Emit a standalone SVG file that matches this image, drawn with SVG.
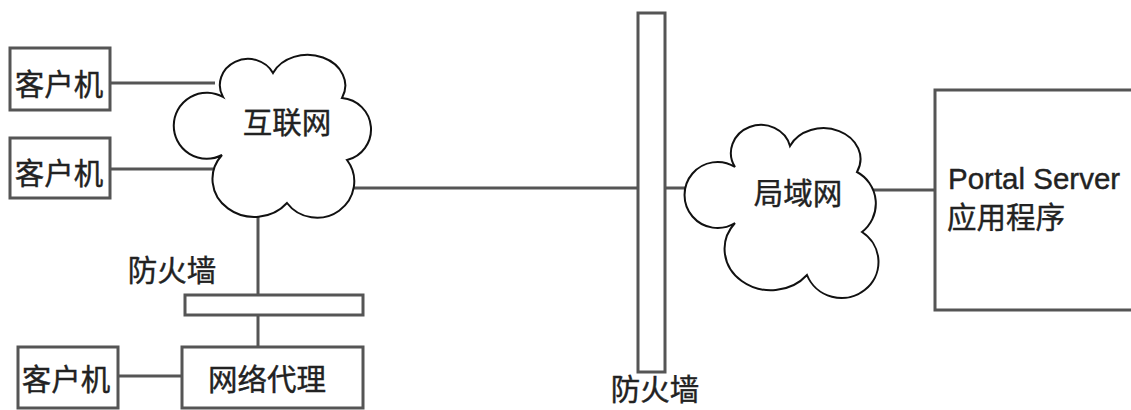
<svg xmlns="http://www.w3.org/2000/svg" width="1131" height="410" viewBox="0 0 1131 410">
<style>
.box{fill:#fff;stroke:#555;stroke-width:3}
.cloud{fill:#fff;stroke:#111;stroke-width:2}
.conn{stroke:#555;stroke-width:3;fill:none}
.t{font-family:"Liberation Sans","Noto Sans CJK SC",sans-serif;font-size:29.5px;fill:#222;stroke:#222;stroke-width:0.4}
.m{text-anchor:middle;dominant-baseline:central}
</style>
<rect width="1131" height="410" fill="#fff"/>
<g id="connectors">
<line class="conn" x1="110" y1="83" x2="215" y2="83"/>
<line class="conn" x1="110" y1="169" x2="215" y2="169"/>
<line class="conn" x1="350" y1="188" x2="700" y2="188"/>
<line class="conn" x1="258" y1="215" x2="258" y2="347"/>
<line class="conn" x1="118" y1="376" x2="182" y2="376"/>
<line class="conn" x1="870" y1="190" x2="935" y2="190"/>
</g>
<g id="client1"><rect class="box" x="10" y="48" width="100" height="62"/><text class="t m" x="59" y="84">客户机</text></g>
<g id="client2"><rect class="box" x="10" y="138" width="100" height="60"/><text class="t m" x="59" y="173">客户机</text></g>
<g id="internet">
<path class="cloud" d="M223 97 A28 26 0 1 1 273 73 A37 30 0 1 1 342 98 A31.5 31.5 0 0 1 347 160 A37 36 0 1 1 287 203 A41 37 0 1 1 222 155 A33 33 0 1 1 223 97 Z"/>
<text class="t m" x="287" y="122">互联网</text>
</g>
<g id="firewall1"><rect class="box" x="185" y="295" width="178" height="20"/><text class="t m" x="172" y="270">防火墙</text></g>
<g id="proxy"><rect class="box" x="182" y="347" width="181" height="61"/><text class="t m" x="267" y="379">网络代理</text></g>
<g id="client3"><rect class="box" x="18" y="347" width="100" height="61"/><text class="t m" x="66" y="379">客户机</text></g>
<g id="firewall2"><rect class="box" x="638" y="13" width="27" height="359"/><text class="t m" x="655" y="389">防火墙</text></g>
<g id="lan">
<path class="cloud" d="M735 167 A30 28 0 1 1 790 146 A36 30 0 1 1 857 172 A36 36 0 0 1 862 232 A37 36 0 1 1 807 275 A45 40 0 1 1 735 223 A33 33 0 1 1 735 167 Z"/>
<text class="t m" x="798" y="193">局域网</text>
</g>
<g id="server"><rect class="box" x="935" y="90" width="210" height="220"/>
<text class="t" x="948" y="189">Portal Server</text>
<text class="t" x="947" y="228">应用程序</text></g>
</svg>
